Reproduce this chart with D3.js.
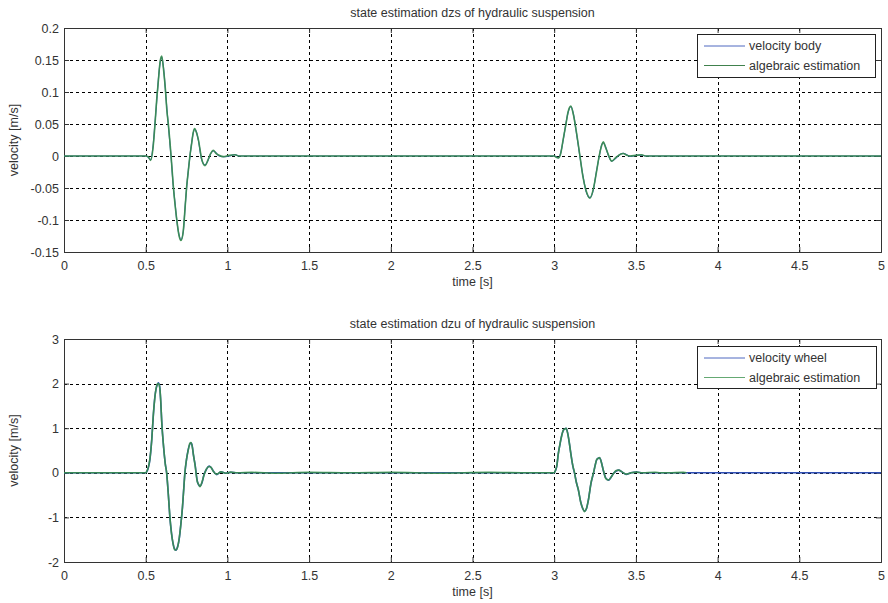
<!DOCTYPE html>
<html><head><meta charset="utf-8">
<script src="https://cdn.jsdelivr.net/npm/d3@7"></script>
<style>body{margin:0;background:#fff}svg{display:block}text{font-family:"Liberation Sans",Arial,sans-serif;fill:#333}</style>
</head><body><svg id="c" width="888" height="603"></svg>
<script>
// ---------- data ----------
const xTicks = [0,0.5,1,1.5,2,2.5,3,3.5,4,4.5,5];
const yTicksTop = [-0.15,-0.1,-0.05,0,0.05,0.1,0.15,0.2];
const yTicksBottom = [-2,-1,0,1,2,3];

// top plot: body velocity (dzs)
const tBody = [0,0.5,0.515,0.53,0.545,0.557,0.567,0.577,0.588,0.598,0.608,0.62,0.63,0.638,0.655,0.669,0.68,0.69,0.703,0.716,0.73,0.741,0.751,0.761,0.771,0.781,0.791,0.80,0.81,0.822,0.843,0.863,0.883,0.898,0.914,0.93,0.944,0.975,1.01,1.047,1.07,
  3.0,3.012,3.025,3.04,3.055,3.07,3.085,3.102,3.118,3.135,3.157,3.175,3.195,3.219,3.24,3.258,3.276,3.29,3.30,3.315,3.33,3.352,3.375,3.4,3.423,3.444,3.464,3.5,3.535,3.56,5];
const vBody = [0,0,-0.002,-0.006,0.015,0.052,0.085,0.118,0.145,0.155,0.14,0.105,0.072,0.05,0,-0.048,-0.075,-0.1,-0.122,-0.131,-0.118,-0.08,-0.048,-0.022,0,0.02,0.036,0.042,0.038,0.025,-0.006,-0.014,-0.006,0.004,0.008,0.005,0.001,-0.001,0,0.002,0,
  0,-0.001,-0.003,0.005,0.025,0.048,0.068,0.077,0.065,0.038,0,-0.03,-0.055,-0.065,-0.052,-0.025,0,0.017,0.021,0.014,0.002,-0.008,-0.004,0.002,0.004,0.002,-0.0005,0.001,0.0015,0,0];
const vBodyEst = [0,0,-0.001,-0.007,0.013,0.05,0.087,0.116,0.147,0.156,0.138,0.106,0.07,0.051,0.001,-0.047,-0.077,-0.099,-0.123,-0.132,-0.117,-0.081,-0.047,-0.023,0.001,0.019,0.037,0.043,0.037,0.026,-0.005,-0.015,-0.005,0.004,0.009,0.004,0.002,-0.001,0.001,0.002,0,
  0,-0.002,-0.003,0.004,0.026,0.047,0.069,0.078,0.064,0.039,0.001,-0.031,-0.054,-0.066,-0.051,-0.026,0.001,0.016,0.022,0.013,0.003,-0.008,-0.003,0.002,0.004,0.001,0,0.001,0.002,0,0];

// bottom plot: wheel velocity (dzu)
const tWheel = [0,0.5,0.506,0.515,0.526,0.537,0.547,0.556,0.563,0.57,0.577,0.585,0.592,0.598,0.61,0.62,0.628,0.638,0.648,0.658,0.668,0.676,0.685,0.695,0.706,0.716,0.725,0.733,0.74,0.75,0.76,0.77,0.777,0.785,0.792,0.802,0.816,0.824,0.832,0.845,0.857,0.872,0.888,0.9,0.912,0.934,0.96,0.99,1.02,1.06,
  3.0,3.008,3.016,3.025,3.036,3.046,3.056,3.065,3.073,3.082,3.092,3.102,3.114,3.124,3.135,3.148,3.162,3.174,3.186,3.198,3.209,3.225,3.241,3.25,3.259,3.268,3.278,3.288,3.30,3.316,3.333,3.348,3.364,3.38,3.394,3.415,3.44,3.47,3.503,3.54,5];
const vWheel = [0,0,0.02,0.1,0.3,0.75,1.3,1.7,1.87,1.97,2.02,1.95,1.6,1.16,0.55,0.2,0,-0.45,-1.0,-1.35,-1.6,-1.7,-1.735,-1.66,-1.46,-1.12,-0.78,-0.35,0,0.3,0.52,0.64,0.67,0.6,0.4,0.19,-0.19,-0.27,-0.3,-0.22,-0.04,0.08,0.15,0.12,0.05,-0.04,0.02,-0.01,0.01,0,
  0,0.05,0.15,0.43,0.65,0.84,0.95,0.99,0.995,0.9,0.68,0.43,0.15,0,-0.2,-0.39,-0.65,-0.8,-0.86,-0.8,-0.61,-0.24,0,0.16,0.28,0.325,0.335,0.25,0.06,-0.12,-0.165,-0.1,-0.01,0.04,0.06,0.02,-0.035,0,0.015,0,0];
// estimation (ends ~3.8 s, small noise between events)
const tWheelEst = [0,0.5,0.506,0.515,0.526,0.537,0.547,0.556,0.563,0.57,0.577,0.585,0.592,0.598,0.61,0.62,0.628,0.638,0.648,0.658,0.668,0.676,0.685,0.695,0.706,0.716,0.725,0.733,0.74,0.75,0.76,0.77,0.777,0.785,0.792,0.802,0.816,0.824,0.832,0.845,0.857,0.872,0.888,0.9,0.912,0.934,0.96,0.99,1.02,1.06,1.15,1.3,1.5,1.75,2.0,2.3,2.6,2.85,
  3.0,3.008,3.016,3.025,3.036,3.046,3.056,3.065,3.073,3.082,3.092,3.102,3.114,3.124,3.135,3.148,3.162,3.174,3.186,3.198,3.209,3.225,3.241,3.25,3.259,3.268,3.278,3.288,3.30,3.316,3.333,3.348,3.364,3.38,3.394,3.415,3.44,3.47,3.503,3.54,3.617,3.65,3.7,3.79,3.81];
const vWheelEst = [0,0,0.03,0.11,0.32,0.73,1.32,1.68,1.88,1.98,2.0,1.93,1.62,1.14,0.57,0.19,0.01,-0.47,-0.98,-1.37,-1.59,-1.72,-1.73,-1.67,-1.44,-1.13,-0.76,-0.36,0.01,0.31,0.5,0.66,0.68,0.58,0.41,0.17,-0.2,-0.26,-0.31,-0.2,-0.05,0.09,0.14,0.12,0.04,-0.03,0.02,-0.01,0.015,0,0.01,-0.01,0.01,0,0.01,-0.01,0.01,0,
  0,0.06,0.16,0.42,0.66,0.83,0.96,0.98,1.0,0.89,0.69,0.42,0.16,0.01,-0.21,-0.38,-0.66,-0.79,-0.87,-0.79,-0.62,-0.23,0.01,0.15,0.29,0.32,0.34,0.24,0.07,-0.13,-0.16,-0.1,-0.01,0.05,0.06,0.02,-0.03,0,0.015,0,0.012,0,0,0.01,0];

const colBlue = "#2f4fb5", colGreen = "#3a8f4c";

// ---------- drawing ----------
const svg = d3.select("#c");
const X0 = 64, X1 = 881;
const FS = 12.5;

function panel(top, bottom, ydom, yticks, tickFmt, title, titleY, series, legend, legBox){
  const x = d3.scaleLinear().domain([0,5]).range([X0,X1]);
  const y = d3.scaleLinear().domain(ydom).range([bottom, top]);
  const g = svg.append("g");
  // grid
  g.append("g").selectAll("line").data(xTicks.slice(1,-1)).join("line")
    .attr("x1",d=>Math.round(x(d))+0.5).attr("x2",d=>Math.round(x(d))+0.5)
    .attr("y1",top).attr("y2",bottom)
    .attr("stroke","#000").attr("stroke-width",1).attr("stroke-dasharray","3,3");
  g.append("g").selectAll("line").data(yticks.slice(1,-1)).join("line")
    .attr("y1",d=>Math.round(y(d))+0.5).attr("y2",d=>Math.round(y(d))+0.5)
    .attr("x1",X0).attr("x2",X1)
    .attr("stroke","#000").attr("stroke-width",1).attr("stroke-dasharray","3,3");
  // axes
  g.append("g").attr("transform",`translate(0,${bottom})`)
    .call(d3.axisBottom(x).tickValues(xTicks).tickSize(-5).tickPadding(9).tickFormat(d=>String(d)));
  g.append("g").attr("transform",`translate(${X0},0)`)
    .call(d3.axisLeft(y).tickValues(yticks).tickSize(-5).tickPadding(5).tickFormat(tickFmt));
  g.append("g").attr("transform",`translate(0,${top})`)
    .call(d3.axisTop(x).tickValues(xTicks).tickSize(-5).tickFormat(""));
  g.append("g").attr("transform",`translate(${X1},0)`)
    .call(d3.axisRight(y).tickValues(yticks).tickSize(-5).tickFormat(""));
  g.selectAll(".domain").attr("stroke","#333");
  g.selectAll(".tick line").attr("stroke","#333");
  g.selectAll(".tick text").attr("font-size",FS).attr("fill","#333").style("font-family","Liberation Sans, Arial, sans-serif");
  // data lines
  const clip = "clip"+top;
  svg.append("clipPath").attr("id",clip).append("rect").attr("x",X0).attr("y",top).attr("width",X1-X0).attr("height",bottom-top);
  const line = d3.line().x(d=>x(d[0])).y(d=>y(d[1])).curve(d3.curveMonotoneX);
  series.forEach(s=>{
    g.append("path").datum(d3.zip(s.t, s.v)).attr("d",line)
      .attr("fill","none").attr("stroke",s.color).attr("stroke-width",s.w)
      .attr("stroke-opacity",s.op).attr("clip-path",`url(#${clip})`);
  });
  // titles
  svg.append("text").attr("x",(X0+X1)/2).attr("y",titleY).attr("text-anchor","middle")
    .attr("font-size",FS).attr("fill","#222").text(title);
  svg.append("text").attr("x",(X0+X1)/2).attr("y",bottom+34).attr("text-anchor","middle")
    .attr("font-size",FS).attr("fill","#333").text("time [s]");
  svg.append("text").attr("transform",`translate(18,${(top+bottom)/2}) rotate(-90)`)
    .attr("text-anchor","middle").attr("font-size",FS).attr("fill","#444").text("velocity [m/s]");
  // legend
  const lg = svg.append("g");
  lg.append("rect").attr("x",legBox[0]+0.5).attr("y",legBox[1]+0.5).attr("width",legBox[2]).attr("height",legBox[3])
    .attr("fill","#fff").attr("stroke","#222");
  legend.forEach((L,i)=>{
    const yy = legBox[1]+12+i*19.5;
    lg.append("line").attr("x1",legBox[0]+7).attr("x2",legBox[0]+48).attr("y1",yy).attr("y2",yy)
      .attr("stroke",L.color).attr("stroke-width",1).attr("stroke-opacity",0.85);
    lg.append("text").attr("x",legBox[0]+52).attr("y",yy+4).attr("font-size",FS).attr("fill","#222").text(L.label);
  });
}

const fmtTop = d=> d===0 ? "0" : String(+d.toFixed(2));
panel(28, 252, [-0.15,0.2], yTicksTop, fmtTop, "state estimation dzs of hydraulic suspension", 17,
  [{t:tBody,v:vBody,color:colBlue,w:1.2,op:1},{t:tBody,v:vBodyEst,color:colGreen,w:1.6,op:0.9}],
  [{label:"velocity body",color:colBlue},{label:"algebraic estimation",color:"#1e6b2e"}],
  [697,34,178,43]);
panel(339, 562, [-2,3], yTicksBottom, d=>String(d), "state estimation dzu of hydraulic suspension", 328,
  [{t:tWheel,v:vWheel,color:colBlue,w:1.6,op:1},{t:tWheelEst,v:vWheelEst,color:colGreen,w:1.6,op:0.9}],
  [{label:"velocity wheel",color:colBlue},{label:"algebraic estimation",color:"#4a9a5a"}],
  [697,346,179,42]);
</script></body></html>
